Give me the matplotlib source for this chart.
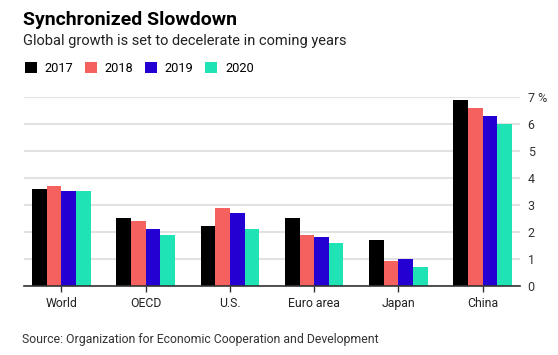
import numpy as np
import matplotlib
matplotlib.use("Agg")
import matplotlib.pyplot as plt
from matplotlib.patches import Patch

plt.rcParams["font.family"] = ["Roboto", "DejaVu Sans"]

regions = ["World", "OECD", "U.S.", "Euro area", "Japan", "China"]
years = ["2017", "2018", "2019", "2020"]
g2017 = [3.6, 2.5, 2.2, 2.5, 1.7, 6.9]
g2018 = [3.7, 2.4, 2.9, 1.9, 0.9, 6.6]
g2019 = [3.5, 2.1, 2.7, 1.8, 1.0, 6.3]
g2020 = [3.5, 1.9, 2.1, 1.6, 0.7, 6.0]
ytick_labels = ["0", "1", "2", "3", "4", "5", "6", "7 %"]

colors = ["#000000", "#f4615e", "#2400d2", "#1fe3b4"]

fig = plt.figure(figsize=(5.58, 3.55), dpi=100)
ax = fig.add_axes([0.043, 0.1952, 0.889, 0.531])

x = np.arange(len(regions))
w = 0.1737
for i, (vals, c) in enumerate(zip([g2017, g2018, g2019, g2020], colors)):
    ax.bar(x + (i - 1.5) * w, vals, width=w, color=c, zorder=3)

ax.set_xlim(-0.443, 5.443)
ax.set_ylim(0, 7)
ax.set_yticks(range(8))
ax.set_yticklabels(ytick_labels)
ax.yaxis.tick_right()
ax.tick_params(axis="y", length=0, pad=5.5, labelsize=9, labelcolor="#333333")
ax.set_xticks(x)
ax.set_xticklabels(regions)
ax.tick_params(axis="x", length=4, width=1, color="#333333", pad=4,
               labelsize=8.8, labelcolor="#222222")
ax.grid(axis="y", color="#e2e2e2", lw=1.5, zorder=0)
for s in ["top", "left", "right"]:
    ax.spines[s].set_visible(False)
ax.spines["bottom"].set_color("#333333")
ax.spines["bottom"].set_linewidth(1.2)
ax.spines["bottom"].set_zorder(4)

fig.text(0.041, 0.9296, "Synchronized Slowdown", fontsize=14, fontweight="bold",
         va="baseline", color="#000000")
fig.text(0.041, 0.873, "Global growth is set to decelerate in coming years",
         fontsize=10.5, va="baseline", color="#222222")

handles = [Patch(facecolor=c, edgecolor="none") for c in colors]
fig.legend(handles, years, loc="upper left", bbox_to_anchor=(0.045, 0.826),
           ncol=4, frameon=False, fontsize=9.2, handlelength=0.95,
           handleheight=0.95, handletextpad=0.6, columnspacing=0.9,
           borderaxespad=0, borderpad=0)

fig.text(0.039, 0.035, "Source: Organization for Economic Cooperation and Development",
         fontsize=8.8, va="baseline", color="#333333")

fig.savefig("out.png", dpi=100)
